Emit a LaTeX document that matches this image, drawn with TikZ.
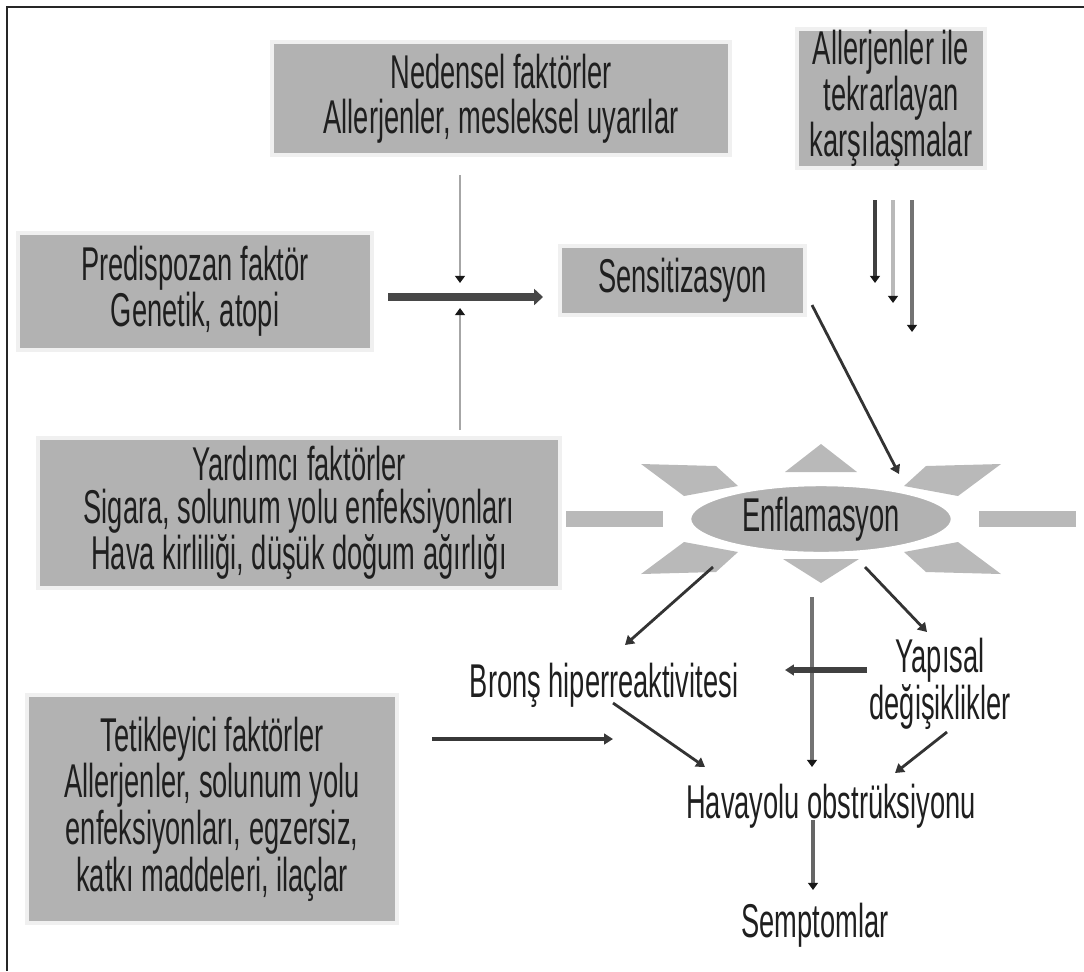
\documentclass[tikz,border=0pt]{standalone}
\usepackage{fontspec}
\setmainfont{Liberation Sans}[FakeStretch=0.575]
\usetikzlibrary{arrows.meta,shapes.geometric}
\begin{document}
\begin{tikzpicture}[x=0.02cm, y=-0.02cm, font={\fontsize{27}{25}\selectfont},
  box/.style={fill=gray!60, draw=gray!12, line width=2pt, align=center, inner sep=0pt, text=black!88},
  lbl/.style={align=center, inner sep=0pt, text=black!88},
  ray/.style={fill=gray!55},
  thickarr/.style={draw=black!72, line width=4.2pt, -{Triangle[length=5pt,width=9pt]}},
  darkarr/.style={draw=black!80, line width=1.6pt, -{Triangle[length=5pt,width=6pt]}},
  grayarr/.style={line width=1.5pt, -{Triangle[length=4pt,width=5.5pt,color=black!90]}}]
			\useasboundingbox (0,0) rectangle (1084,971);
			\draw[line width=1.2pt, black!85] (7,971) -- (7,7) -- (1084,7);
			
			\node[box, minimum width=9.16cm, minimum height=2.26cm, font={\fontsize{27}{25.5}\selectfont}] (nedensel) at (501,98.5) {Nedensel faktörler\\Allerjenler, mesleksel uyarılar};
			\node[box, minimum width=3.76cm, minimum height=2.78cm, font={\fontsize{27}{23.5}\selectfont}] (allerjen) at (891,98.5) {Allerjenler ile\\tekrarlayan\\karşılaşmalar};
			\node[box, minimum width=7.08cm, minimum height=2.34cm, font={\fontsize{27}{24}\selectfont}] (predis) at (195,291.5) {Predispozan faktör\\Genetik, atopi};
			\node[box, minimum width=4.9cm, minimum height=1.38cm] (sens) at (682.5,280.5) {Sensitizasyon};
			\node[box, minimum width=10.44cm, minimum height=3.0cm, font={\fontsize{27}{24.5}\selectfont}] (yardim) at (299,513) {Yardımcı faktörler\\Sigara, solunum yolu enfeksiyonları\\Hava kirliliği, düşük doğum ağırlığı};
			\node[box, minimum width=7.4cm, minimum height=4.56cm, font={\fontsize{27}{26.5}\selectfont}] (tetik) at (212,809) {Tetikleyici faktörler\\Allerjenler, solunum yolu\\enfeksiyonları, egzersiz,\\katkı maddeleri, ilaçlar};
			
			\begin{scope}[shift={(821,519)}]
				\foreach \sx in {1,-1}{
					\fill[ray] ({\sx*158},-8) rectangle ({\sx*255},8);
					\foreach \sy in {1,-1}
						\fill[ray] ({\sx*(-180)},{\sy*(-55)}) -- ({\sx*(-105)},{\sy*(-53)}) -- ({\sx*(-83)},{\sy*(-33)}) -- ({\sx*(-137)},{\sy*(-23)}) -- cycle;
				}
				\fill[ray] (0,-75) -- (36,-47) -- (-36,-47) -- cycle;
				\fill[ray] (0,64) -- (38,40) -- (-38,40) -- cycle;
			\end{scope}
			\node[ellipse, fill=gray!60, draw=white, line width=2.5pt, minimum width=5.28cm, minimum height=1.4cm, inner sep=0pt, text=black!88] (enflam) at (821,519) {Enflamasyon};
			
			\node[lbl, anchor=base] (brons) at (604,697) {Bronş hiperreaktivitesi};
			\node[lbl] (yapisal) at (940,684) {Yapısal\\değişiklikler};
			\node[lbl, anchor=base] (havayolu) at (831,818) {Havayolu obstrüksiyonu};
			\node[lbl, anchor=base] (semptom) at (815,937) {Semptomlar};
			
			\coordinate (predis-r) at (388,297); \coordinate (sens-l) at (543,297);
			\coordinate (ned-s) at (460,175); \coordinate (ned-e) at (460,283);
			\coordinate (yar-s) at (460,430); \coordinate (yar-e) at (460,308);
			\coordinate (sens-br) at (812,305); \coordinate (enf-tr) at (899,474);
			\coordinate (enf-bl) at (713,567); \coordinate (brons-t) at (625,645);
			\coordinate (enf-br) at (865,567); \coordinate (yap-t) at (927,632);
			\coordinate (enf-b) at (812,597); \coordinate (hav-t) at (812,767);
			\coordinate (yap-l) at (867,670); \coordinate (mid-r) at (785,670);
			\coordinate (tetik-r) at (432,739); \coordinate (brons-l) at (613,739);
			\coordinate (brons-b) at (613,703); \coordinate (hav-l) at (705,767);
			\coordinate (yap-b) at (947,732); \coordinate (hav-r) at (895,773);
			\coordinate (hav-b) at (813,820); \coordinate (sem-t) at (813,890);
			
			\draw[thickarr] (predis-r) -- (sens-l);
			\draw[grayarr, draw=gray!70] (ned-s) -- (ned-e);
			\draw[grayarr, draw=gray!70] (yar-s) -- (yar-e);
			
			\foreach \x/\y/\c in {875/283/black!75, 893/303/gray!55, 912/332/black!55}
				\draw[grayarr, line width=1.9pt, draw=\c] (\x,200) -- (\x,\y);
			
			\draw[darkarr] (sens-br) -- (enf-tr);
			\draw[darkarr] (enf-bl) -- (brons-t);
			\draw[darkarr] (enf-br) -- (yap-t);
			\draw[grayarr, line width=1.9pt, draw=black!55] (enf-b) -- (hav-t);
			\draw[darkarr, line width=3pt, draw=black!75] (yap-l) -- (mid-r);
			\draw[darkarr, line width=2.6pt, draw=black!78] (tetik-r) -- (brons-l);
			\draw[darkarr] (brons-b) -- (hav-l);
			\draw[darkarr] (yap-b) -- (hav-r);
			\draw[grayarr, line width=1.9pt, draw=black!60] (hav-b) -- (sem-t);
		\end{tikzpicture}
\end{document}
